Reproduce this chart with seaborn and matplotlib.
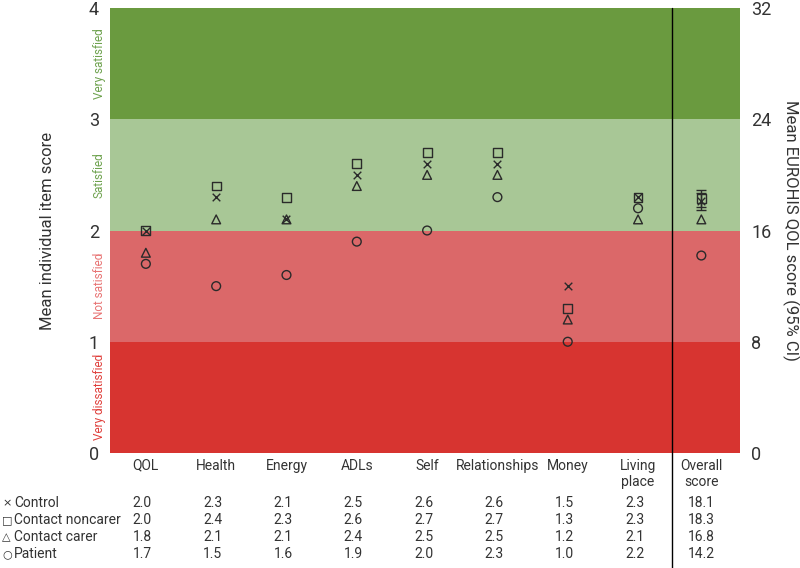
import numpy as np
import matplotlib
matplotlib.use("Agg")
import matplotlib.pyplot as plt
import seaborn as sns

# item labels and per-group mean scores (0-4 scale)
items = ["QOL", "Health", "Energy", "ADLs", "Self", "Relationships", "Money", "Living\nplace"]
groups = ["Control", "Contact noncarer", "Contact carer", "Patient"]
symbols = ["\u00d7", "\u25a1", "\u25b3", "\u25cb"]
markers = ["x", "s", "^", "o"]

control = [2.0, 2.3, 2.1, 2.5, 2.6, 2.6, 1.5, 2.3]
noncarer = [2.0, 2.4, 2.3, 2.6, 2.7, 2.7, 1.3, 2.3]
carer = [1.8, 2.1, 2.1, 2.4, 2.5, 2.5, 1.2, 2.1]
patient = [1.7, 1.5, 1.6, 1.9, 2.0, 2.3, 1.0, 2.2]

# overall EUROHIS score (0-32 scale) with 95% CI
overall = [18.1, 18.3, 16.8, 14.2]
overall_lo = [17.5, 17.7, 16.8, 14.2]
overall_hi = [18.7, 18.9, 16.8, 14.2]

band_names = ["Very dissatisfied", "Not satisfied", "Satisfied", "Very satisfied"]
band_colors = ["#d73430", "#db6869", "#a8c796", "#6a9a3f"]
band_text = ["#e0403c", "#e87474", "#6ea24e", "#6ea24e"]

sns.set_style("white")
plt.rcParams["font.family"] = ["Roboto", "DejaVu Sans"]

fig = plt.figure(figsize=(8, 5.68), dpi=100)
ax = fig.add_axes([110 / 800, 1 - 453 / 568, 630 / 800, 445 / 568])

for i, c in enumerate(band_colors):
    ax.axhspan(i, i + 1, color=c, lw=0, zorder=0)
    ax.text(-0.66, i + 0.5, band_names[i], rotation=90, ha="center", va="center",
            color=band_text[i], fontsize=8.5)

series = [control, noncarer, carer, patient]
xpos = np.arange(len(items))
ink = "#2a2a2a"
for vals, m in zip(series, markers):
    if m == "x":
        sns.scatterplot(x=xpos, y=vals, marker=m, color=ink, s=30, linewidth=1.0, ax=ax, zorder=3)
    else:
        sns.scatterplot(x=xpos, y=vals, marker=m, facecolors="none", edgecolor=ink,
                        s=40, linewidth=1.0, ax=ax, zorder=3)

x_over = 7.9
sep = 7.48
ax.set_xlim(-0.51, 8.45)
ax.set_ylim(0, 4)
ax.set_yticks([0, 1, 2, 3, 4])
ax.set_xticks(list(xpos) + [x_over])
ax.set_xticklabels(items + ["Overall\nscore"], fontsize=10, color="#333333", linespacing=1.2)
ax.tick_params(axis="both", length=0, pad=4)
ax.tick_params(axis="y", labelsize=13, pad=8, labelcolor="#333333")
ax.set_ylabel("Mean individual item score", fontsize=12, color="#333333")
ax.yaxis.set_label_coords(-0.087, 0.5)
for s in ax.spines.values():
    s.set_visible(False)

ax.axvline(sep, ymin=-115 / 445, ymax=1, color="black", lw=1, clip_on=False, zorder=4)

ax2 = ax.twinx()
ax2.set_ylim(0, 32)
ax2.set_yticks([0, 8, 16, 24, 32])
ax2.tick_params(axis="y", length=0, labelsize=13, pad=8, labelcolor="#333333")
ax2.set_ylabel("Mean EUROHIS QOL score (95% CI)", fontsize=12, color="#333333",
               rotation=270, va="center")
ax2.yaxis.set_label_coords(1.08, 0.5)
for s in ax2.spines.values():
    s.set_visible(False)

for v, lo, hi, m in zip(overall, overall_lo, overall_hi, markers):
    if hi > lo:
        ax2.errorbar([x_over], [v], yerr=[[v - lo], [hi - v]], fmt="none", ecolor=ink,
                     elinewidth=1, capsize=3.5, zorder=3)
    if m == "x":
        sns.scatterplot(x=[x_over], y=[v], marker=m, color=ink, s=30, linewidth=1.0, ax=ax2, zorder=3)
    else:
        sns.scatterplot(x=[x_over], y=[v], marker=m, facecolors="none", edgecolor=ink,
                        s=40, linewidth=1.0, ax=ax2, zorder=3)

# value table under the chart
trans = matplotlib.transforms.blended_transform_factory(ax.transData, fig.transFigure)
row_y = [1 - 503 / 568, 1 - 520 / 568, 1 - 537 / 568, 1 - 554 / 568]
for r, (g, sym, vals) in enumerate(zip(groups, symbols, series)):
    fig.text(2 / 800, row_y[r], sym, fontsize=8, va="center", ha="left", color="#333333",
             family=["DejaVu Sans"])
    fig.text(14 / 800, row_y[r], g, fontsize=10, va="center", ha="left", color="#333333")
    for j, v in enumerate(vals):
        ax.text(xpos[j] - 0.05, row_y[r], f"{v:.1f}", transform=trans, fontsize=10,
                va="center", ha="center", color="#333333")
    ax.text(x_over, row_y[r], f"{overall[r]:.1f}", transform=trans, fontsize=10,
            va="center", ha="center", color="#333333")

fig.savefig("out.png", dpi=100)
